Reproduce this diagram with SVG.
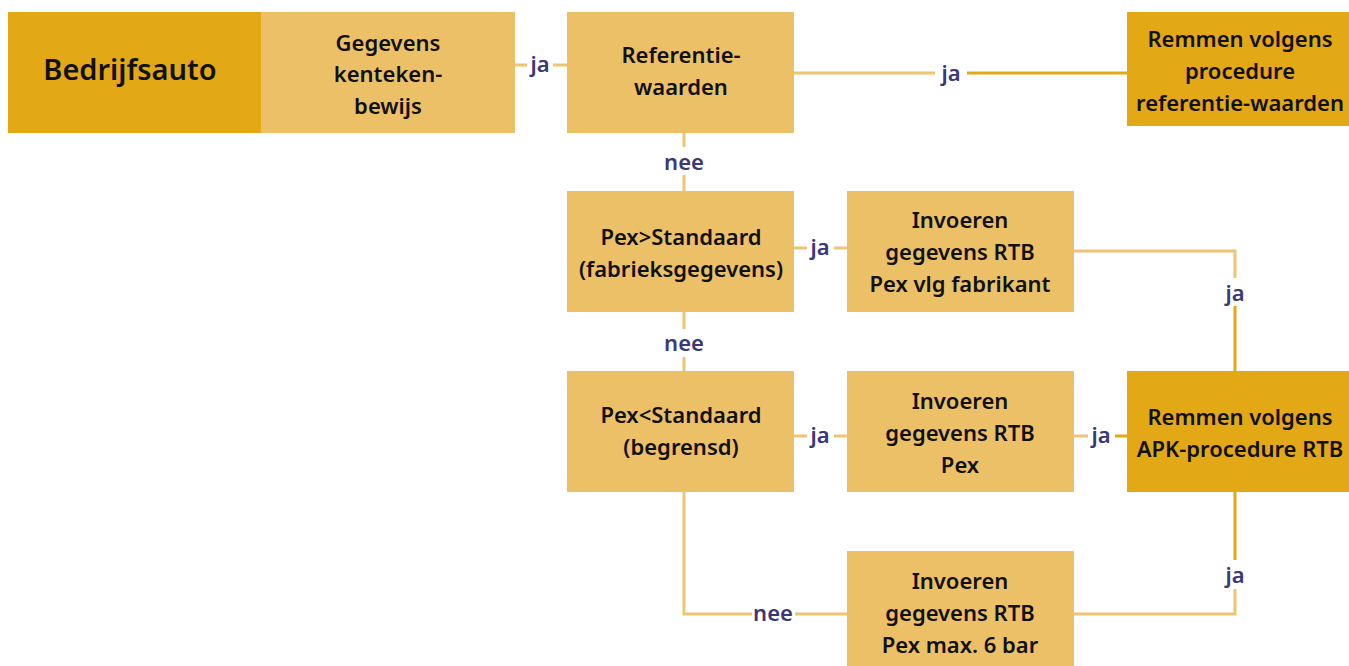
<svg xmlns="http://www.w3.org/2000/svg" width="1349" height="666" viewBox="0 0 1349 666">
<style>
.dark{fill:#E3A815}
.light{fill:#ECC067}
.t{font-family:"Noto Sans","Open Sans",sans-serif;font-weight:600;font-size:22px;fill:#111;text-anchor:middle;dominant-baseline:central}
.big{font-size:29px}
.lbl{font-family:"Noto Sans","Open Sans",sans-serif;font-weight:600;font-size:22px;fill:#3B3878;text-anchor:middle;dominant-baseline:central}
.cl{stroke:#EDC573;stroke-width:3;fill:none}
.cd{stroke:#E3A815;stroke-width:3;fill:none}
</style>
<rect width="1349" height="666" fill="#fff"/>
<g id="connectors">
<line class="cl" x1="515" y1="65" x2="527" y2="65"/>
<line class="cl" x1="553" y1="65" x2="567" y2="65"/>
<line class="cl" x1="794" y1="73" x2="935" y2="73"/>
<line class="cd" x1="967" y1="73" x2="1127" y2="73"/>
<line class="cl" x1="684" y1="133" x2="684" y2="147"/>
<line class="cl" x1="684" y1="175" x2="684" y2="191"/>
<line class="cl" x1="794" y1="248" x2="807" y2="248"/>
<line class="cl" x1="834" y1="248" x2="847" y2="248"/>
<polyline class="cl" points="1074,251 1235,251 1235,278"/>
<line class="cd" x1="1235" y1="306" x2="1235" y2="371"/>
<line class="cl" x1="684" y1="312" x2="684" y2="329"/>
<line class="cl" x1="684" y1="357" x2="684" y2="371"/>
<line class="cl" x1="794" y1="436" x2="807" y2="436"/>
<line class="cl" x1="834" y1="436" x2="847" y2="436"/>
<line class="cl" x1="1074" y1="436" x2="1088" y2="436"/>
<line class="cd" x1="1115" y1="436" x2="1127" y2="436"/>
<line class="cd" x1="1235" y1="492" x2="1235" y2="560"/>
<polyline class="cl" points="1235,589 1235,614 1074,614"/>
<polyline class="cl" points="684,492 684,614 752,614"/>
<line class="cl" x1="795" y1="614" x2="847" y2="614"/>
<text class="lbl" x="540" y="63">ja</text>
<text class="lbl" x="951" y="72">ja</text>
<text class="lbl" x="684" y="161">nee</text>
<text class="lbl" x="820" y="246">ja</text>
<text class="lbl" x="1235" y="292">ja</text>
<text class="lbl" x="684" y="342">nee</text>
<text class="lbl" x="820" y="434">ja</text>
<text class="lbl" x="1101" y="434">ja</text>
<text class="lbl" x="1235" y="574">ja</text>
<text class="lbl" x="773" y="612">nee</text>
</g>
<g id="bedrijfsauto">
<rect class="dark" x="8" y="12" width="253" height="121"/>
<text class="t big" x="130" y="68">Bedrijfsauto</text>
</g>
<g id="gegevens">
<rect class="light" x="261" y="12" width="254" height="121"/>
<text class="t" x="388" y="42">Gegevens</text>
<text class="t" x="388" y="73">kenteken-</text>
<text class="t" x="388" y="105">bewijs</text>
</g>
<g id="referentie">
<rect class="light" x="567" y="12" width="227" height="121"/>
<text class="t" x="681" y="54">Referentie-</text>
<text class="t" x="681" y="86">waarden</text>
</g>
<g id="remmen-ref">
<rect class="dark" x="1127" y="12" width="222" height="114"/>
<text class="t" x="1240" y="38">Remmen volgens</text>
<text class="t" x="1240" y="70">procedure</text>
<text class="t" x="1240" y="102">referentie-waarden</text>
</g>
<g id="pex-groter">
<rect class="light" x="567" y="191" width="227" height="121"/>
<text class="t" x="681" y="236">Pex&gt;Standaard</text>
<text class="t" x="681" y="268">(fabrieksgegevens)</text>
</g>
<g id="invoeren-fabrikant">
<rect class="light" x="847" y="191" width="227" height="121"/>
<text class="t" x="960" y="219">Invoeren</text>
<text class="t" x="960" y="251">gegevens RTB</text>
<text class="t" x="960" y="283">Pex vlg fabrikant</text>
</g>
<g id="pex-kleiner">
<rect class="light" x="567" y="371" width="227" height="121"/>
<text class="t" x="681" y="414">Pex&lt;Standaard</text>
<text class="t" x="681" y="446">(begrensd)</text>
</g>
<g id="invoeren-pex">
<rect class="light" x="847" y="371" width="227" height="121"/>
<text class="t" x="960" y="400">Invoeren</text>
<text class="t" x="960" y="432">gegevens RTB</text>
<text class="t" x="960" y="464">Pex</text>
</g>
<g id="remmen-apk">
<rect class="dark" x="1127" y="371" width="222" height="121"/>
<text class="t" x="1240" y="416">Remmen volgens</text>
<text class="t" x="1240" y="448">APK-procedure RTB</text>
</g>
<g id="invoeren-max">
<rect class="light" x="847" y="551" width="227" height="115"/>
<text class="t" x="960" y="580">Invoeren</text>
<text class="t" x="960" y="612">gegevens RTB</text>
<text class="t" x="960" y="644">Pex max. 6 bar</text>
</g>
</svg>
